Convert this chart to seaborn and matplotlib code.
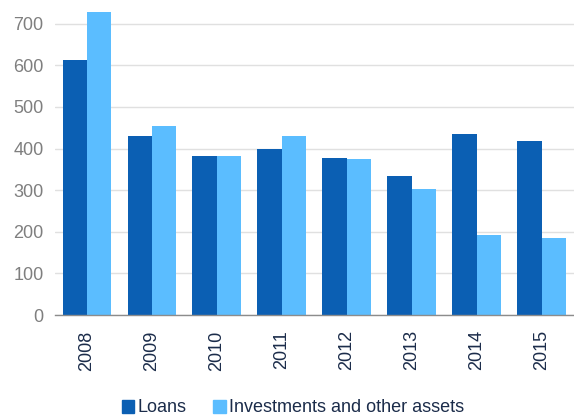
import numpy as np
import pandas as pd
import matplotlib
matplotlib.use("Agg")
import matplotlib.pyplot as plt
import seaborn as sns

years = ["2008", "2009", "2010", "2011", "2012", "2013", "2014", "2015"]
loans = [612, 430, 383, 398, 378, 334, 435, 418]
investments = [729, 453, 381, 431, 376, 302, 192, 184]
series_names = ["Loans", "Investments and other assets"]
palette = ["#0B5FB3", "#5BBDFF"]

df = pd.DataFrame({
    "year": years * 2,
    "value": loans + investments,
    "series": [series_names[0]] * len(years) + [series_names[1]] * len(years),
})

sns.set_theme(style="white")
plt.rcParams["font.family"] = ["Liberation Sans", "DejaVu Sans"]

fig = plt.figure(figsize=(5.74, 4.2), dpi=100)
ax = fig.add_axes([54.5 / 574, 105 / 420, (574 - 54.5) / 574, 315 / 420])

sns.barplot(data=df, x="year", y="value", hue="series", palette=palette,
            width=0.75, gap=0, saturation=1, ax=ax, legend=False,
            edgecolor="none")

ax.set_xlim(-0.5, -0.5 + 519.5 / 65.7)
ax.set_ylim(0, 757)
ax.set_yticks(np.arange(0, 701, 100))
ax.yaxis.grid(True, color="#E0E0E0", linewidth=1)
ax.set_axisbelow(True)

ax.set_xlabel("")
ax.set_ylabel("")

for side in ["top", "right", "left"]:
    ax.spines[side].set_visible(False)
ax.spines["bottom"].set_color("#8C8C8C")
ax.spines["bottom"].set_linewidth(1)
ax.spines["bottom"].set_zorder(5)

ax.tick_params(axis="y", length=0, labelsize=13, labelcolor="#7F7F7F", pad=8)
ax.tick_params(axis="x", which="major", length=0, labelsize=13,
               labelcolor="#1B2C4A", labelrotation=90, pad=11)
ax.set_xticks(np.arange(-0.5, len(years) + 0.5, 1), minor=True)
ax.tick_params(axis="x", which="minor", length=5, color="#8C8C8C", width=1)

handles = [plt.Rectangle((0, 0), 1, 1, color=c) for c in palette]
fig.legend(handles, series_names, loc="center", bbox_to_anchor=(0.51, 1 - 408 / 420),
           ncol=2, frameon=False, fontsize=13, handlelength=0.7, handleheight=0.7,
           handletextpad=0.15, columnspacing=1.5, labelcolor="#1B2C4A")

fig.savefig("out.png", dpi=100)
